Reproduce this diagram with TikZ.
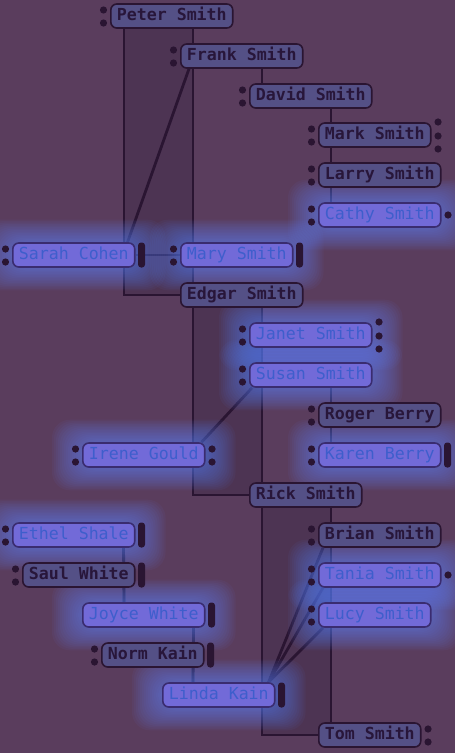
\documentclass[tikz,border=0pt]{standalone}
\usepackage{fontspec}
\newfontfamily\namefont{DejaVu Sans Mono}
\usepackage{tikz}
\usetikzlibrary{backgrounds}

\definecolor{bgpurple}{RGB}{90,61,93}
\definecolor{boxshade}{RGB}{77,52,83}
\definecolor{wire}{RGB}{42,21,50}
\definecolor{plainfill}{RGB}{84,80,134}
\definecolor{plaintext}{RGB}{40,22,58}
\definecolor{litfill}{RGB}{114,106,216}
\definecolor{littext}{RGB}{62,94,204}
\definecolor{litline}{RGB}{58,44,112}
\definecolor{glowblue}{RGB}{92,132,255}

\pgfdeclarelayer{back}
\pgfdeclarelayer{links}
\pgfdeclarelayer{glow}
\pgfsetlayers{back,links,glow,main}

\tikzset{
  person/.style={draw=wire, line width=1.6pt, rounded corners=6pt,
    fill=plainfill, text=plaintext, anchor=west,
    minimum height=24pt, inner xsep=6pt, inner ysep=0pt,
    text height=11pt, text depth=3pt,
    font=\namefont\bfseries\fontsize{16.6}{18}\selectfont},
  lit/.style={person, draw=litline, fill=litfill, text=littext,
    font=\namefont\fontsize{16.6}{18}\selectfont},
  link/.style={draw=wire, line width=2.8pt},
  knob/.style={fill=wire}
}

% little handles beside the boxes
\newcommand{\dotsleft}[1]{\foreach \o in {6,-7}
  {\fill[knob] ([xshift=-6.5pt,yshift=\o pt]#1.west) circle (3.6pt);}}
\newcommand{\dotsright}[2]{\foreach \o in {#2}
  {\fill[knob] ([xshift=6.5pt,yshift=\o pt]#1.east) circle (3.6pt);}}
\newcommand{\barright}[1]{\fill[knob,rounded corners=3pt]
  ([xshift=2.5pt,yshift=12.5pt]#1.east) rectangle ([xshift=9.5pt,yshift=-12.5pt]#1.east);}
\newcommand{\glowat}[1]{\foreach \g in {2,4,...,30}
  {\fill[glowblue,opacity=0.05,rounded corners=18pt]
  ([xshift=-\g pt,yshift=0.75*\g pt]#1.north west) rectangle ([xshift=\g pt,yshift=-0.75*\g pt]#1.south east);}}

\begin{document}
\begin{tikzpicture}[x=1pt,y=-1pt]
\useasboundingbox (0,0) rectangle (455,753);

% people
\node[person] (peter) at (110,16) {Peter Smith};
\node[person] (frank) at (180,56) {Frank Smith};
\node[person] (david) at (249,96) {David Smith};
\node[person] (mark)  at (318,135) {Mark Smith};
\node[person] (larry) at (318,175) {Larry Smith};
\node[lit]    (cathy) at (318,215) {Cathy Smith};
\node[lit]    (sarah) at (12,255) {Sarah Cohen};
\node[lit]    (mary)  at (180,255) {Mary Smith};
\node[person] (edgar) at (180,295) {Edgar Smith};
\node[lit]    (janet) at (249,335) {Janet Smith};
\node[lit]    (susan) at (249,375) {Susan Smith};
\node[person] (roger) at (318,415) {Roger Berry};
\node[lit]    (karen) at (318,455) {Karen Berry};
\node[lit]    (irene) at (82,455) {Irene Gould};
\node[person] (rick)  at (249,495) {Rick Smith};
\node[lit]    (ethel) at (12,535) {Ethel Shale};
\node[person] (saul)  at (22,575) {Saul White};
\node[lit]    (joyce) at (82,615) {Joyce White};
\node[person] (norm)  at (101,655) {Norm Kain};
\node[lit]    (linda) at (162,695) {Linda Kain};
\node[person] (brian) at (318,535) {Brian Smith};
\node[lit]    (tania) at (318,575) {Tania Smith};
\node[lit]    (lucy)  at (318,615) {Lucy Smith};
\node[person] (tom)   at (318,735) {Tom Smith};

% handles
\foreach \p in {peter,frank,david,mark,larry,cathy,sarah,mary,janet,susan,
  roger,karen,irene,ethel,saul,norm,brian,tania,lucy}
  {\dotsleft{\p}}
\dotsright{mark}{13,-1,-14}
\dotsright{janet}{13,-1,-14}
\dotsright{cathy}{0}
\dotsright{tania}{0}
\dotsright{irene}{6,-7}
\dotsright{tom}{6,-7}
\foreach \p in {sarah,mary,karen,ethel,saul,joyce,norm,linda}
  {\barright{\p}}

\begin{pgfonlayer}{back}
  \fill[bgpurple] (0,0) rectangle (455,753);
  \fill[boxshade] ([xshift=14pt]peter.south west) rectangle ([xshift=13pt]edgar.west);
  \fill[boxshade] ([xshift=13pt]edgar.south west) rectangle ([xshift=13pt]rick.west);
  \fill[boxshade] ([xshift=13pt]rick.south west) rectangle ([xshift=13pt]tom.west);
\end{pgfonlayer}

\begin{pgfonlayer}{links}
  \draw[link] ([xshift=14pt]peter.south west) |- (edgar.west);
  \draw[link] ([xshift=83pt]peter.south west) -- ([xshift=13pt]frank.north west);
  \draw[link] ([xshift=13pt]frank.south west) -- ([xshift=13pt]mary.north west);
  \draw[link] ([xshift=9pt]frank.south west) -- ([xshift=-8pt]sarah.north east);
  \draw[link] ([xshift=82pt]frank.south west) -- ([xshift=13pt]david.north west);
  \draw[link] ([xshift=82pt]david.south west) -- ([xshift=13pt]cathy.north west);
  \draw[link] (sarah.east) -- (mary.west);
  \draw[link] ([xshift=13pt]mary.south west) -- ([xshift=13pt]edgar.north west);
  \draw[link] ([xshift=13pt]edgar.south west) |- (rick.west);
  \draw[link] ([xshift=82pt]edgar.south west) -- ([xshift=13pt]susan.north west);
  \draw[link] ([xshift=13pt]susan.south west) -- ([xshift=13pt]rick.north west);
  \draw[link] ([xshift=82pt]susan.south west) -- ([xshift=13pt]karen.north west);
  \draw[link] ([xshift=3pt]susan.south west) -- ([xshift=-4pt]irene.north east);
  \draw[link] ([xshift=13pt]rick.south west) |- (tom.west);
  \draw[link] ([xshift=82pt]rick.south west) -- ([xshift=13pt]tom.north west);
  \draw[link] ([xshift=-12pt]ethel.south east) -- ([xshift=42pt]joyce.north west);
  \draw[link] ([xshift=-12pt]joyce.south east) -- ([xshift=31pt]linda.north west);
  \foreach \k in {brian,tania,lucy}
    {\draw[link] ([xshift=-7pt]linda.north east) -- ([xshift=5pt]\k.south west);}
\end{pgfonlayer}

\begin{pgfonlayer}{glow}
  \foreach \p in {cathy,sarah,mary,janet,susan,karen,irene,ethel,joyce,linda,tania,lucy}
    {\glowat{\p}}
\end{pgfonlayer}
\end{tikzpicture}
\end{document}
